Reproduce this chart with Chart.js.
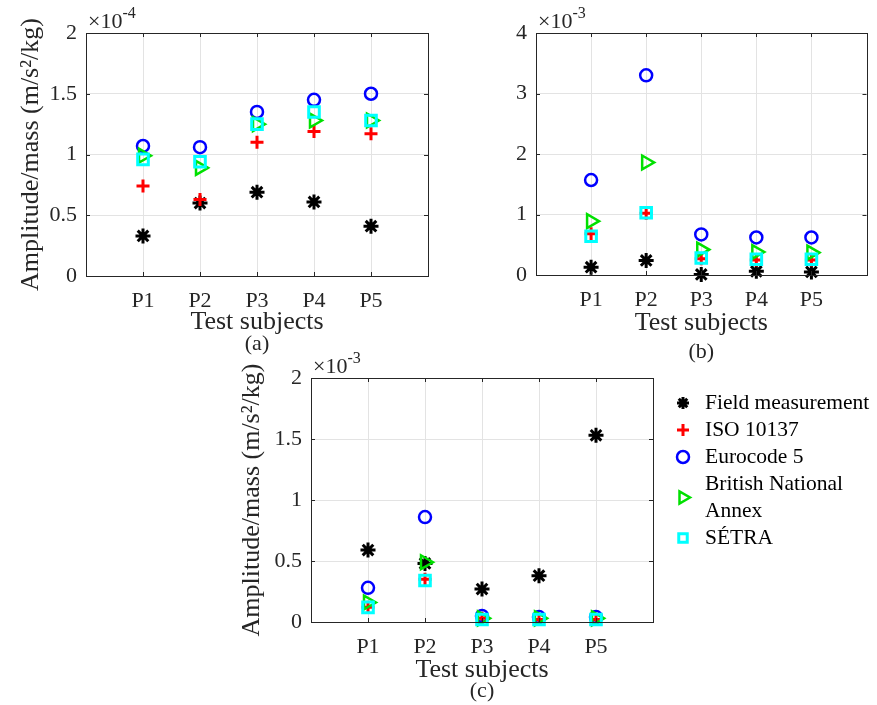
<!DOCTYPE html>
<html>
<head>
<meta charset="utf-8">
<script src="https://cdn.jsdelivr.net/npm/chart.js@4.4.1/dist/chart.umd.min.js"></script>
<style>
  body { margin: 0; background: #fff; }
  #wrap { position: relative; width: 877px; height: 705px; overflow: hidden; }
  canvas { position: absolute; }
</style>
</head>
<body>
<div id="wrap">
  <canvas id="chartA" width="440" height="360" style="left:0;top:0"></canvas>
  <canvas id="chartB" width="437" height="370" style="left:440px;top:0"></canvas>
  <canvas id="chartC" width="677" height="360" style="left:200px;top:345px"></canvas>
</div>
<script>
const subjects = ['P1', 'P2', 'P3', 'P4', 'P5'];
const seriesNames = ['Field measurement', 'ISO 10137', 'Eurocode 5', 'British National Annex', 'SÉTRA'];

// (a) values in units of 10^-4 m/s^2/kg
const fieldA = [0.33, 0.60, 0.69, 0.61, 0.41];
const isoA = [0.74, 0.63, 1.10, 1.19, 1.17];
const euroA = [1.07, 1.06, 1.35, 1.45, 1.50];
const britA = [0.99, 0.89, 1.25, 1.28, 1.28];
const setraA = [0.96, 0.94, 1.25, 1.35, 1.28];
const yTicksA = [0, 0.5, 1, 1.5, 2];

// (b) values in units of 10^-3
const fieldB = [0.13, 0.24, 0.01, 0.06, 0.05];
const isoB = [0.68, 1.02, 0.27, 0.25, 0.25];
const euroB = [1.57, 3.30, 0.67, 0.62, 0.62];
const britB = [0.89, 1.86, 0.42, 0.38, 0.37];
const setraB = [0.64, 1.03, 0.28, 0.26, 0.26];
const yTicksB = [0, 1, 2, 3, 4];

// (c) values in units of 10^-3
const fieldC = [0.59, 0.48, 0.27, 0.38, 1.53];
const isoC = [0.12, 0.35, 0.03, 0.02, 0.02];
const euroC = [0.28, 0.86, 0.05, 0.04, 0.04];
const britC = [0.16, 0.49, 0.03, 0.03, 0.03];
const setraC = [0.12, 0.34, 0.02, 0.02, 0.02];
const yTicksC = [0, 0.5, 1, 1.5, 2];

// marker look for each series (same order as seriesNames)
const markers = [
  {style: 'star', color: '#000000', radius: 7.5, width: 3, rotation: 0},
  {style: 'cross', color: '#ff0000', radius: 6.5, width: 3, rotation: 0},
  {style: 'circle', color: '#0000ff', radius: 6, width: 2.5, rotation: 0},
  {style: 'triangle', color: '#00e000', radius: 8, width: 2.5, rotation: 90},
  {style: 'rect', color: '#00ffff', radius: 7.5, width: 3, rotation: 0},
];

const FONT = 'Liberation Serif';
const TEXT = '#262626';

// box, inward ticks, exponent label and caption like matlab axes
const frame = {
  id: 'frame',
  afterDraw(chart, args, o) {
    const {ctx, chartArea: a} = chart;
    const xs = chart.scales.x, ys = chart.scales.y;
    ctx.save();
    ctx.strokeStyle = TEXT;
    ctx.lineWidth = 1;
    ctx.beginPath();
    xs.ticks.forEach(t => {
      const px = Math.round(xs.getPixelForValue(t.value)) + 0.5;
      ctx.moveTo(px, a.bottom); ctx.lineTo(px, a.bottom - 4);
      ctx.moveTo(px, a.top); ctx.lineTo(px, a.top + 4);
    });
    ys.ticks.forEach(t => {
      const py = Math.round(ys.getPixelForValue(t.value)) + 0.5;
      ctx.moveTo(a.left, py); ctx.lineTo(a.left + 4, py);
      ctx.moveTo(a.right, py); ctx.lineTo(a.right - 4, py);
    });
    ctx.stroke();
    ctx.strokeRect(Math.round(a.left) + 0.5, Math.round(a.top) + 0.5,
      Math.round(a.right - a.left), Math.round(a.bottom - a.top));

    ctx.fillStyle = TEXT;
    ctx.textAlign = 'left';
    ctx.textBaseline = 'alphabetic';
    ctx.font = '22px "' + FONT + '"';
    ctx.fillText('×10', a.left + 2, a.top - 5);
    const w = ctx.measureText('×10').width;
    ctx.font = '16px "' + FONT + '"';
    ctx.fillText(o.exponent, a.left + 2 + w, a.top - 15);

    ctx.font = '22px "' + FONT + '"';
    ctx.textAlign = 'center';
    ctx.textBaseline = 'middle';
    ctx.fillText(o.caption, (a.left + a.right) / 2, o.captionY);
    ctx.restore();
  }
};

// legend drawn next to plot (c)
const sideLegend = {
  id: 'sideLegend',
  afterDraw(chart, args, o) {
    const ctx = chart.ctx;
    ctx.save();
    ctx.font = '21.5px "' + FONT + '"';
    ctx.textAlign = 'left';
    ctx.textBaseline = 'middle';
    let y = o.top;
    seriesNames.forEach((name, i) => {
      const m = markers[i];
      const lines = name === 'British National Annex' ? ['British National', 'Annex'] : [name];
      const my = y + (lines.length - 1) * o.lineGap / 2;
      ctx.strokeStyle = m.color;
      ctx.fillStyle = 'rgba(0,0,0,0)';
      ctx.lineWidth = m.width;
      Chart.helpers.drawPoint(ctx, {
        pointStyle: m.style, rotation: m.rotation, radius: m.style === 'triangle' ? 7 : 6,
        borderWidth: m.width
      }, o.markerX, my);
      ctx.fillStyle = '#000';
      lines.forEach((ln, k) => ctx.fillText(ln, o.textX, y + k * o.lineGap));
      y += lines.length * o.lineGap;
    });
    ctx.restore();
  }
};

function buildSets(values) {
  return values.map((vals, i) => ({
    label: seriesNames[i],
    data: vals.map((v, k) => ({x: k + 1, y: v})),
    pointStyle: markers[i].style,
    pointRotation: markers[i].rotation,
    pointRadius: markers[i].radius,
    pointBorderWidth: markers[i].width,
    pointBorderColor: markers[i].color,
    pointBackgroundColor: 'rgba(0,0,0,0)',
    showLine: false,
    clip: false,
    order: values.length - i
  }));
}

function makeChart(id, values, yTicks, g) {
  const plugins = [frame];
  if (g.legend) plugins.push(sideLegend);
  return new Chart(document.getElementById(id), {
    type: 'scatter',
    data: {datasets: buildSets(values)},
    plugins: plugins,
    options: {
      responsive: false,
      animation: false,
      layout: {padding: g.padding},
      plugins: {
        legend: {display: false},
        tooltip: {enabled: false},
        frame: {exponent: g.exponent, caption: g.caption, captionY: g.captionY},
        sideLegend: g.legend || {}
      },
      scales: {
        x: {
          type: 'linear', min: 0, max: subjects.length + 1,
          afterBuildTicks: s => { s.ticks = subjects.map((_, k) => ({value: k + 1})); },
          afterFit: s => { s.height = g.xHeight; },
          ticks: {
            callback: v => subjects[v - 1],
            font: {family: FONT, size: 22}, color: TEXT, padding: 12, maxRotation: 0
          },
          grid: {color: '#e3e3e3', drawTicks: false},
          border: {display: false},
          title: {
            display: true, text: 'Test subjects', color: TEXT,
            font: {family: FONT, size: 26}, padding: {top: 0, bottom: g.xTitlePad}
          }
        },
        y: {
          min: yTicks[0], max: yTicks[yTicks.length - 1],
          afterBuildTicks: s => { s.ticks = yTicks.map(v => ({value: v})); },
          afterFit: s => { s.width = g.yWidth; },
          ticks: {
            callback: v => String(v),
            font: {family: FONT, size: 22}, color: TEXT, padding: 9
          },
          grid: {color: '#e3e3e3', drawTicks: false},
          border: {display: false},
          title: {
            display: g.yTitle, text: 'Amplitude/mass (m/s²/kg)', color: TEXT,
            font: {family: FONT, size: 26}, padding: {top: g.yTitlePad, bottom: 0}
          }
        }
      }
    }
  });
}

makeChart('chartA', [fieldA, isoA, euroA, britA, setraA], yTicksA, {
  padding: {left: 0, top: 33, right: 12, bottom: 0},
  yWidth: 86, xHeight: 84, xTitlePad: 22, yTitle: true, yTitlePad: 16,
  exponent: '-4', caption: '(a)', captionY: 344
});

makeChart('chartB', [fieldB, isoB, euroB, britB, setraB], yTicksB, {
  padding: {left: 0, top: 33, right: 1, bottom: 0},
  yWidth: 96, xHeight: 95, xTitlePad: 31, yTitle: false, yTitlePad: 0,
  exponent: '-3', caption: '(b)', captionY: 352
});

makeChart('chartC', [fieldC, isoC, euroC, britC, setraC], yTicksC, {
  padding: {left: 0, top: 33, right: 224, bottom: 0},
  yWidth: 111, xHeight: 83, xTitlePad: 19, yTitle: true, yTitlePad: 37,
  exponent: '-3', caption: '(c)', captionY: 346,
  legend: {top: 58, lineGap: 27, markerX: 483, textX: 505}
});
</script>
</body>
</html>
